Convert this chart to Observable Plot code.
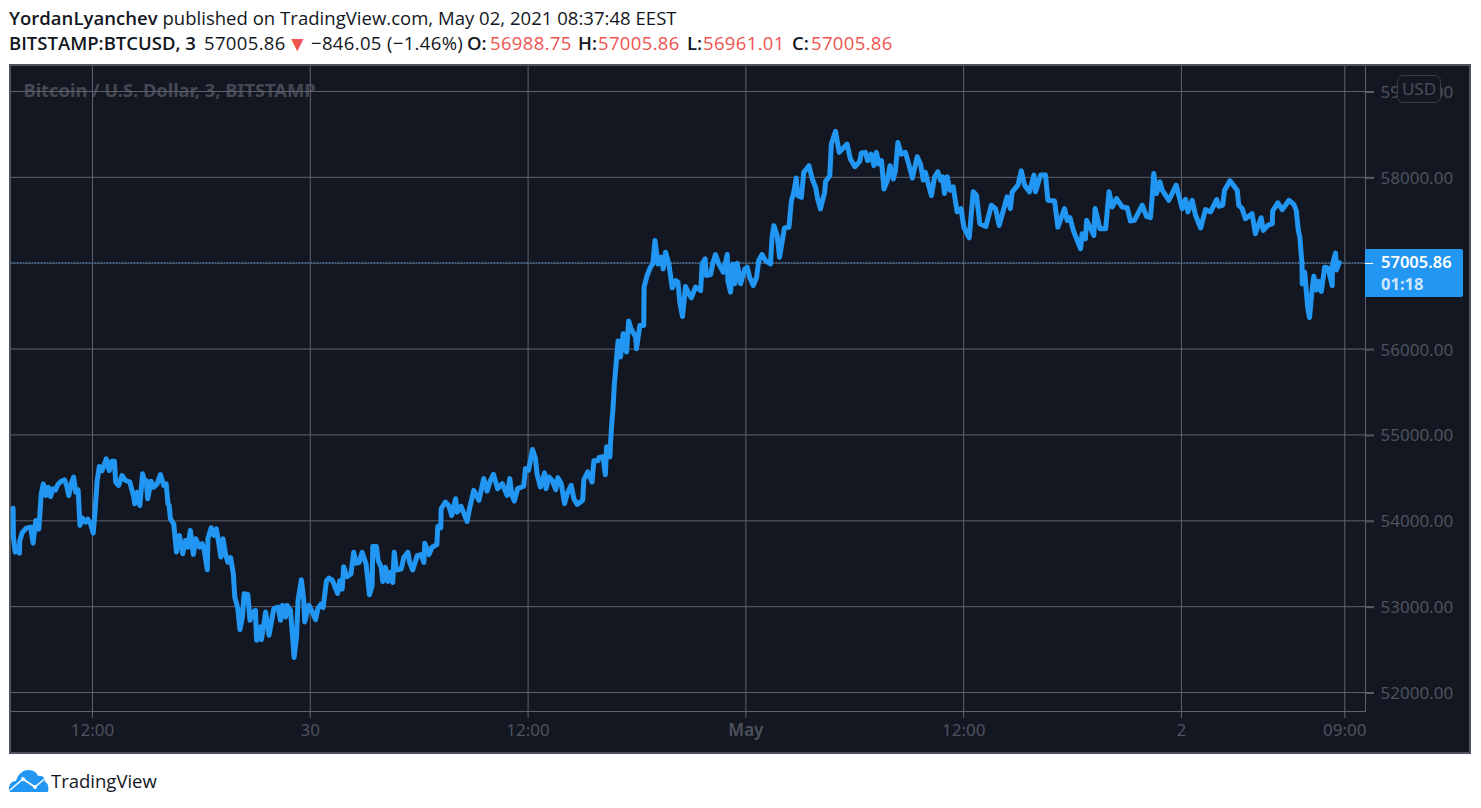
<!DOCTYPE html>
<html>
<head>
<meta charset="utf-8">
<script src="https://cdn.jsdelivr.net/npm/d3@7"></script>
<script src="https://cdn.jsdelivr.net/npm/@observablehq/plot@0.6"></script>
<style>
html,body{margin:0;padding:0;background:#fff;overflow:hidden}
body{width:1481px;height:808px;position:relative;font-family:"Open Sans","Noto Sans",sans-serif;color:#131722}
#h1,#h2{position:absolute;left:9px;white-space:nowrap;font-size:18.5px;line-height:24px}
#h1{top:6px;letter-spacing:.03px}#h2{top:31px}
b{font-weight:600}
.red{color:#ef5350}
.n{letter-spacing:.35px}
#h2 span{position:absolute;top:0}
#frame{position:absolute;left:9px;top:64px;width:1458px;height:686px;background:#131722;border:2px solid #50535e}
#frame svg{display:block}
#price{position:absolute;left:1354px;top:183px;width:98px;height:48px;background:#2196f3;border-radius:0 2px 2px 0;color:#fff;font-family:"Noto Sans",sans-serif;font-size:16.5px;line-height:22px}
#price div{position:absolute;left:16px;white-space:nowrap}
#tickw{position:absolute;left:0;top:14px;width:8px;height:1px;background:#fff}
#usd{position:absolute;left:1386px;top:9px;width:42px;height:26px;border:1px solid #363a45;border-radius:6px;background:#131722;color:#4a4d58;font-family:"Noto Sans",sans-serif;font-size:17px;line-height:26px;text-align:center}
#logo{position:absolute;left:9px;top:769px}
#tv{position:absolute;left:51px;top:768px;font-size:18.5px;line-height:26px;color:#131722;font-family:"Open Sans",sans-serif}
</style>
</head>
<body>
<div id="h1"><b>YordanLyanchev</b> published on TradingView.com, May 02, 2021 08:37:48 EEST</div>
<div id="h2"><span style="left:0"><b>BITSTAMP:BTCUSD, 3</b></span><span class="n" style="left:195px">57005.86</span><span class="red" style="left:278px;font-size:21px">▼</span><span class="n" style="left:302px">−846.05 (−1.46%)</span><span style="left:458px"><b>O:</b><span class="red n" style="left:23px">56988.75</span></span><span style="left:569px"><b>H:</b><span class="red n" style="left:20px">57005.86</span></span><span style="left:678px"><b>L:</b><span class="red n" style="left:16px">56961.01</span></span><span style="left:783px"><b>C:</b><span class="red n" style="left:19px">57005.86</span></span></div>
<div id="frame">
  <div id="price"><i id="tickw"></i><div style="top:2px;font-weight:600">57005.86</div><div style="top:24px;color:#cfe6fb;font-weight:700">01:18</div></div>
  <div id="usd">USD</div>
</div>
<svg id="logo" width="40" height="24" viewBox="0 0 40 24"><path fill="#2196f3" d="M0 20 C0 14 4 12 7 12 C9 5 14 1 19 1 C25 1 28 4 29 7 C34 6 37 10 36 13 C39 14 40 18 39 23 L1 23Z"/><path fill="none" stroke="#fff" stroke-width="1.6" stroke-linejoin="round" d="M1 21 L14 10 L26 18 L38 8"/><circle cx="14" cy="10" r="2" fill="#fff"/><circle cx="26" cy="18" r="2" fill="#fff"/></svg>
<div id="tv">TradingView</div>
<script>
const minutes = [2,3,9,15,23,24,33,46,60,68,77,87,95,102,110,118,126,133,142,150,161,172,179,186,194,202,209,217,223,230,241,249,258,267,273,280,287,296,310,320,328,337,341,351,362,374,388,401,404,412,421,430,438,442,447,458,467,478,489,500,508,514,518,522,533,542,552,563,572,580,588,598,606,618,627,634,644,646,657,666,674,682,689,696,704,712,721,730,735,745,752,760,766,778,785,795,803,807,820,823,837,848,859,864,878,886,893,903,908,919,926,931,939,944,955,963,966,980,991,1002,1009,1020,1027,1038,1046,1057,1075,1082,1090,1095,1106,1119,1128,1137,1146,1156,1169,1180,1189,1191,1203,1209,1219,1224,1233,1241,1249,1257,1262,1269,1285,1294,1307,1313,1323,1338,1351,1360,1363,1377,1387,1403,1406,1416,1417,1431,1442,1452,1465,1470,1483,1492,1503,1512,1525,1542,1558,1569,1580,1590,1604,1619,1635,1644,1651,1659,1670,1690,1696,1706,1719,1729,1734,1745,1759,1764,1773,1784,1796,1803,1814,1825,1834,1847,1856,1867,1885,1889,1902,1916,1922,1935,1939,1952,1960,1964,1975,1977,1982,1985,1990,1997,2002,2010,2019,2030,2037,2045,2060,2063,2074,2087,2088,2098,2109,2117,2124,2134,2145,2151,2159,2170,2181,2192,2200,2206,2215,2225,2236,2244,2258,2275,2280,2290,2294,2308,2316,2324,2335,2350,2363,2365,2374,2381,2388,2396,2407,2421,2429,2437,2449,2460,2467,2478,2489,2506,2511,2517,2528,2536,2552,2567,2575,2583,2591,2596,2608,2616,2633,2644,2655,2662,2671,2685,2688,2702,2707,2721,2733,2759,2770,2785,2801,2806,2820,2827,2839,2848,2856,2864,2873,2881,2892,2901,2912,2919,2927,2938,2952,2969,2975,2991,3002,3011,3018,3026,3038,3048,3059,3068,3075,3081,3090,3099,3110,3123,3136,3145,3163,3176,3187,3198,3218,3236,3250,3262,3288,3299,3305,3324,3335,3346,3362,3377,3382,3399,3415,3423,3445,3456,3478,3487,3496,3507,3531,3536,3547,3551,3562,3575,3579,3595,3614,3625,3636,3650,3669,3685,3696,3709,3735,3749,3762,3767,3773,3782,3793,3801,3823,3847,3867,3878,3886,3900,3911,3928,3944,3961,3981,3988,4001,4007,4025,4049,4054,4065,4076,4098,4109,4128,4135,4150,4165,4166,4183,4198,4220,4236,4244,4251,4256,4263,4264,4272,4282,4288,4295,4302,4311,4319,4327,4338,4349,4363,4364,4374,4377,4386];
const prices = [54147,53810,53636,53694,53624,53771,53868,53915,53926,53740,54004,53903,54314,54430,54295,54391,54283,54372,54360,54422,54461,54477,54411,54295,54430,54508,54333,54360,53946,54035,53984,54019,53965,53857,54120,54469,54632,54585,54721,54585,54694,54694,54450,54411,54527,54469,54450,54275,54198,54333,54178,54547,54450,54469,54256,54461,54391,54430,54539,54411,54430,54198,54178,54023,53965,53636,53829,53616,53771,53694,53888,53609,53791,53694,53733,53655,53430,53791,53919,53829,53907,53733,53578,53791,53616,53519,53570,53384,53112,52977,52733,52880,53151,53143,52841,52938,52957,52609,52764,52616,52938,52667,52880,52977,52996,52841,53015,52880,53015,52957,52647,52407,52647,53073,53314,53073,52822,53015,52938,52849,52970,53029,52990,53302,53333,53310,53154,53302,53204,53466,53349,53380,53633,53505,53516,53633,53497,53138,53243,53700,53700,53536,53458,53294,53458,53294,53399,53282,53633,53427,53438,53575,53633,53516,53427,53594,53606,53516,53739,53606,53692,53723,53934,53918,54140,54218,54179,54062,54257,54101,54168,54090,53992,54160,54355,54238,54491,54347,54472,54542,54374,54433,54296,54491,54296,54230,54374,54402,54608,54589,54831,54725,54550,54394,54558,54374,54511,54472,54363,54503,54433,54199,54316,54413,54257,54191,54238,54480,54569,54452,54698,54698,54737,54745,54538,54862,54745,54909,55174,55300,55600,55888,56093,55907,56178,55965,56326,56236,56140,56004,56275,56275,56721,56857,56953,56992,57264,56992,57070,56934,57128,56992,56713,56798,56779,56547,56380,56729,56643,56597,56721,56682,56992,57050,56857,56868,57012,57101,56992,56895,57101,56798,56663,56992,56760,57000,56760,56934,56953,56837,56740,56837,57031,57101,57031,56992,57302,57438,57322,57070,57411,57419,57729,57826,57992,57787,57767,58058,58136,57981,57884,57748,57632,57826,57953,58019,58388,58535,58291,58388,58213,58124,58186,58283,58291,58194,58271,58136,58291,58155,58194,57864,57961,58136,57981,58078,58407,58271,58291,58078,57992,58240,58155,57969,58058,57942,57787,58000,58065,57967,58006,57811,58006,57850,57889,57597,57636,57421,57296,57831,57792,57460,57429,57675,57636,57440,57772,57636,57831,57909,58076,57909,57831,58026,57831,58026,58026,57733,57725,57421,57636,57499,57530,57382,57168,57343,57285,57499,57421,57324,57636,57402,57402,57831,57655,57753,57655,57647,57491,57499,57675,57546,57530,57733,58045,57811,57948,57850,57733,57909,57636,57745,57597,57733,57558,57410,57624,57597,57741,57663,57675,57850,57959,57850,57675,57636,57519,57577,57343,57530,57382,57441,57460,57608,57702,57624,57733,57686,57616,57382,57304,56992,56758,56895,56485,56368,56641,56848,56688,56789,56672,56953,56945,56739,56992,57117,56922,57006];
const priceTicks = [52000,53000,54000,55000,56000,57000,58000,59000];
const shownPriceTicks = priceTicks.filter(p => p !== 57000);
const tickMinutes = [264.5,984.5,1704.5,2424.5,3144.5,3864.5,4404.5];
const tickLabels = ["12:00","30","12:00","May","12:00","2","09:00"];
const lastPrice = 57005.86;

const base = Date.UTC(2021,3,29,7,35,30);
const toDate = m => new Date(base + m*60000);
const series = minutes.map((m,i)=>({t:toDate(m),p:prices[i]}));
const tickDates = tickMinutes.map(toDate);
const labelOf = new Map(tickDates.map((d,i)=>[+d,tickLabels[i]]));
const grid = "#5f626d", dim = "#4f525d";
const fmt = d => labelOf.get(+d);

const chart = Plot.plot({
  width:1458, height:686,
  marginLeft:0, marginRight:104, marginTop:0, marginBottom:41,
  style:{background:"transparent",fontFamily:"'Noto Sans',sans-serif",fontSize:"17px",overflow:"visible"},
  x:{type:"utc",domain:[toDate(-3.3),toDate(4473)]},
  y:{domain:[51779,59291]},
  marks:[
    Plot.text(["Bitcoin / U.S. Dollar, 3, BITSTAMP"],{frameAnchor:"top-left",dx:12,dy:17,fill:"#454853",fontWeight:700,fontSize:18.3,textAnchor:"start"}),
    Plot.ruleY(priceTicks,{stroke:grid}),
    Plot.ruleX(tickDates,{stroke:grid}),
    Plot.frame({anchor:"bottom",stroke:grid}),
    Plot.frame({anchor:"right",stroke:grid}),
    Plot.ruleY([lastPrice],{stroke:"#2196f3",strokeDasharray:"1,2"}),
    Plot.axisY(priceTicks,{anchor:"right",label:null,tickSize:8,tickPadding:7,stroke:grid,fill:dim,tickFormat:()=>""}),
    Plot.axisY(shownPriceTicks,{anchor:"right",label:null,tickSize:8,tickPadding:7,stroke:grid,fill:dim,dy:1,tickFormat:d=>d.toFixed(2)}),
    Plot.axisX(tickDates.filter((d,i)=>tickLabels[i]!=="May"),{label:null,tickSize:7,tickPadding:5,stroke:grid,fill:dim,tickFormat:fmt}),
    Plot.axisX(tickDates.filter((d,i)=>tickLabels[i]==="May"),{label:null,tickSize:7,tickPadding:5,stroke:grid,fill:dim,fontWeight:600,tickFormat:fmt}),
    Plot.line(series,{x:"t",y:"p",stroke:"#2196f3",strokeWidth:5,strokeLinejoin:"round",strokeLinecap:"round",curve:"linear"})
  ]
});
document.getElementById("frame").prepend(chart);
</script>
</body>
</html>
